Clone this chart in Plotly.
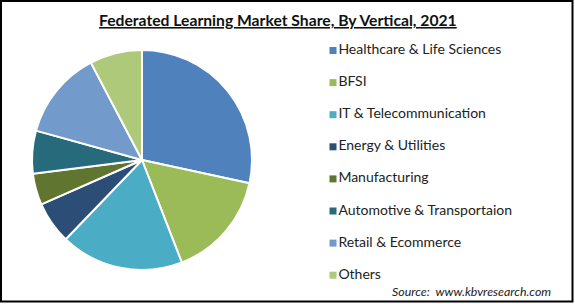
import plotly.graph_objects as go

title = "Federated Learning Market Share, By Vertical, 2021"
categories = ["Healthcare & Life Sciences", "BFSI", "IT & Telecommunication",
              "Energy & Utilities", "Manufacturing", "Automotive & Transportaion",
              "Retail & Ecommerce", "Others"]
shares = [28.4, 15.7, 18.1, 6.2, 4.6, 6.3, 13.0, 7.7]
colors = ["#4F81BD", "#9BBB59", "#4BACC6", "#2C4D75",
          "#5F7530", "#276A7C", "#729ACA", "#AFC97A"]
source = "Source:  www.kbvresearch.com"

W, H = 575, 304
FONT = "Lato"

fig = go.Figure()
fig.add_trace(go.Pie(
    labels=categories, values=shares, sort=False, direction="clockwise",
    rotation=0, marker=dict(colors=colors, line=dict(color="white", width=2)),
    textinfo="none", hoverinfo="label+percent", showlegend=False,
    domain=dict(x=[32 / W, 252 / W], y=[(H - 270) / H, (H - 50) / H]),
))

# legend drawn as square markers with labels
row0, gap = 50.5, 32.1
fig.add_trace(go.Scatter(
    x=[333] * len(categories),
    y=[row0 + gap * i for i in range(len(categories))],
    mode="markers+text", text=categories, textposition="middle right",
    marker=dict(symbol="square", size=7, color=colors),
    textfont=dict(family=FONT, size=14, color="#222"),
    showlegend=False, hoverinfo="skip", cliponaxis=False,
))

fig.update_layout(
    width=W, height=H, margin=dict(l=0, r=0, t=0, b=0),
    paper_bgcolor="white", plot_bgcolor="white",
    xaxis=dict(range=[0, W], visible=False, fixedrange=True),
    yaxis=dict(range=[H, 0], visible=False, fixedrange=True),
    annotations=[
        dict(text="<b><u>" + title + "</u></b>", x=278 / W, y=1 - 20 / H,
             xref="paper", yref="paper", showarrow=False,
             font=dict(family=FONT, size=15.7, color="#111"),
             xanchor="center", yanchor="middle"),
        dict(text="<i>" + source + "</i>", x=553 / W, y=1 - 291 / H,
             xref="paper", yref="paper", showarrow=False,
             font=dict(family=FONT, size=12.4, color="#222"),
             xanchor="right", yanchor="middle"),
    ],
    shapes=[dict(type="rect", xref="paper", yref="paper",
                 x0=1 / W, x1=1 - 2.5 / W, y0=2.5 / H, y1=1 - 1 / H,
                 line=dict(color="black", width=2))],
)

fig.write_html("out.html")
